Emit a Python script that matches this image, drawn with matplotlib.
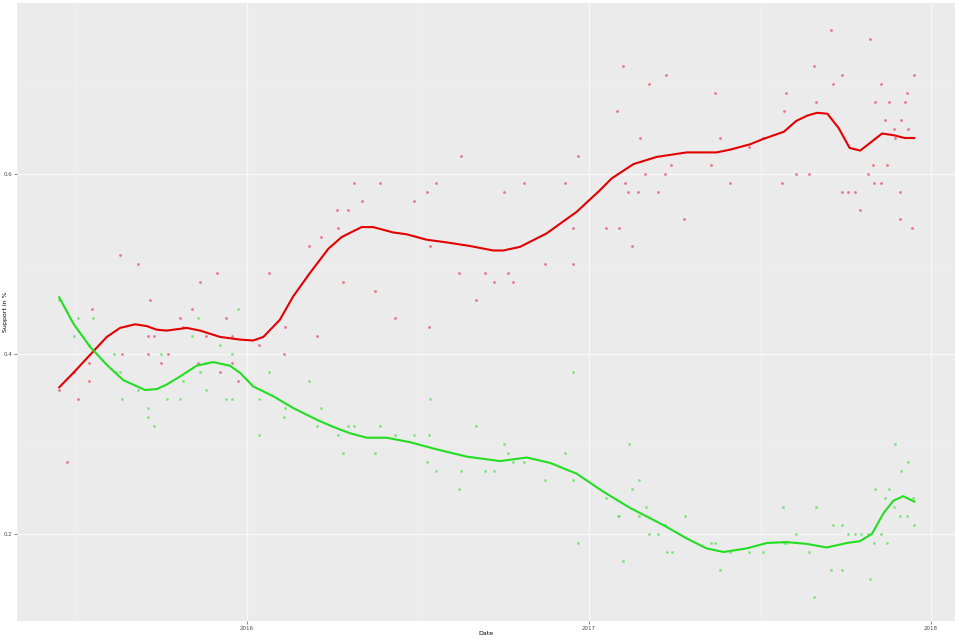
import matplotlib
matplotlib.use("Agg")
import matplotlib.pyplot as plt
import numpy as np

# Poll dates (decimal years) and support shares
red_dates = [2015.451, 2015.475, 2015.495, 2015.507, 2015.538, 2015.538, 2015.548, 2015.628,
             2015.634, 2015.682, 2015.710, 2015.710, 2015.717, 2015.729, 2015.749, 2015.768,
             2015.805, 2015.813, 2015.838, 2015.858, 2015.863, 2015.881, 2015.912, 2015.920,
             2015.939, 2015.955, 2015.957, 2015.973, 2016.035, 2016.064,
             2016.109, 2016.112, 2016.182, 2016.206, 2016.216, 2016.262, 2016.265, 2016.281,
             2016.294, 2016.314, 2016.335, 2016.374, 2016.390, 2016.434, 2016.489, 2016.527,
             2016.533, 2016.535, 2016.552, 2016.621, 2016.626, 2016.670, 2016.697, 2016.722,
             2016.751, 2016.762, 2016.779, 2016.809, 2016.872, 2016.930, 2016.954, 2016.954,
             2016.968, 2017.050, 2017.083, 2017.088, 2017.099, 2017.106, 2017.115, 2017.126,
             2017.144, 2017.148, 2017.164, 2017.176, 2017.203, 2017.222, 2017.226, 2017.241,
             2017.279,
             2017.356, 2017.369, 2017.384, 2017.411, 2017.469, 2017.509, 2017.565, 2017.569,
             2017.577, 2017.605, 2017.643, 2017.659, 2017.665, 2017.709, 2017.713, 2017.739,
             2017.739, 2017.758, 2017.777, 2017.793, 2017.816, 2017.823, 2017.831, 2017.833,
             2017.837, 2017.854, 2017.854, 2017.865, 2017.871, 2017.876, 2017.892, 2017.895,
             2017.909, 2017.910, 2017.913, 2017.925, 2017.931, 2017.934, 2017.944, 2017.951]
red_values = [0.36, 0.28, 0.38, 0.35, 0.39, 0.37, 0.45, 0.51,
              0.40, 0.50, 0.42, 0.40, 0.46, 0.42, 0.39, 0.40,
              0.44, 0.43, 0.45, 0.39, 0.48, 0.42, 0.49, 0.38,
              0.44, 0.42, 0.39, 0.37, 0.41, 0.49,
              0.40, 0.43, 0.52, 0.42, 0.53, 0.56, 0.54, 0.48,
              0.56, 0.59, 0.57, 0.47, 0.59, 0.44, 0.57, 0.58,
              0.43, 0.52, 0.59, 0.49, 0.62, 0.46, 0.49, 0.48,
              0.58, 0.49, 0.48, 0.59, 0.50, 0.59, 0.54, 0.50,
              0.62, 0.54, 0.67, 0.54, 0.72, 0.59, 0.58, 0.52,
              0.58, 0.64, 0.60, 0.70, 0.58, 0.60, 0.71, 0.61,
              0.55,
              0.61, 0.69, 0.64, 0.59, 0.63, 0.64, 0.59, 0.67,
              0.69, 0.60, 0.60, 0.72, 0.68, 0.76, 0.70, 0.71,
              0.58, 0.58, 0.58, 0.56, 0.60, 0.75, 0.61, 0.59,
              0.68, 0.70, 0.59, 0.66, 0.61, 0.68, 0.65, 0.64,
              0.58, 0.55, 0.66, 0.68, 0.69, 0.65, 0.54, 0.71]

green_dates = [2015.451, 2015.495, 2015.507, 2015.539, 2015.549, 2015.612, 2015.616, 2015.628,
               2015.634, 2015.682, 2015.710, 2015.710, 2015.729, 2015.749, 2015.766, 2015.805,
               2015.813, 2015.840, 2015.858, 2015.863, 2015.877, 2015.881, 2015.920, 2015.939,
               2015.955, 2015.957, 2015.973, 2016.035, 2016.035, 2016.064,
               2016.109, 2016.112, 2016.182, 2016.206, 2016.216, 2016.265, 2016.281, 2016.294,
               2016.314, 2016.374, 2016.390, 2016.434, 2016.489, 2016.527, 2016.533, 2016.535,
               2016.552, 2016.621, 2016.626, 2016.670, 2016.697, 2016.722,
               2016.751, 2016.762, 2016.779, 2016.809, 2016.872, 2016.930, 2016.954, 2016.954,
               2016.968, 2017.050, 2017.084, 2017.088, 2017.099, 2017.116, 2017.127, 2017.145,
               2017.147, 2017.166, 2017.175, 2017.203, 2017.223, 2017.227, 2017.242, 2017.281,
               2017.356, 2017.369, 2017.383, 2017.411, 2017.469, 2017.509, 2017.568, 2017.569,
               2017.577, 2017.605, 2017.643, 2017.659, 2017.665, 2017.709, 2017.713, 2017.739,
               2017.739, 2017.758, 2017.777, 2017.796, 2017.816, 2017.823, 2017.833, 2017.837,
               2017.854, 2017.865, 2017.871, 2017.876, 2017.892, 2017.894, 2017.909, 2017.913,
               2017.930, 2017.933, 2017.947, 2017.951]
green_values = [0.46, 0.42, 0.44, 0.41, 0.44, 0.40, 0.38, 0.38,
                0.35, 0.36, 0.34, 0.33, 0.32, 0.40, 0.35, 0.35,
                0.37, 0.42, 0.44, 0.38, 0.39, 0.36, 0.41, 0.35,
                0.40, 0.35, 0.45, 0.35, 0.31, 0.38,
                0.33, 0.34, 0.37, 0.32, 0.34, 0.31, 0.29, 0.32,
                0.32, 0.29, 0.32, 0.31, 0.31, 0.28, 0.31, 0.35,
                0.27, 0.25, 0.27, 0.32, 0.27, 0.27,
                0.30, 0.29, 0.28, 0.28, 0.26, 0.29, 0.26, 0.38,
                0.19, 0.24, 0.22, 0.22, 0.17, 0.30, 0.25, 0.22,
                0.26, 0.23, 0.20, 0.20, 0.21, 0.18, 0.18, 0.22,
                0.19, 0.19, 0.16, 0.18, 0.18, 0.18, 0.23, 0.19,
                0.19, 0.20, 0.18, 0.13, 0.23, 0.16, 0.21, 0.21,
                0.16, 0.20, 0.20, 0.20, 0.20, 0.15, 0.19, 0.25,
                0.20, 0.24, 0.19, 0.25, 0.23, 0.30, 0.22, 0.27,
                0.22, 0.28, 0.24, 0.21]

# Smoothed trend lines
red_trend_dates = [2015.451, 2015.492, 2015.541, 2015.590, 2015.629, 2015.673, 2015.707, 2015.736,
                   2015.765, 2015.824, 2015.863, 2015.921, 2015.980, 2016.018, 2016.048, 2016.096,
                   2016.135, 2016.184, 2016.238, 2016.277, 2016.335, 2016.369, 2016.428, 2016.467,
                   2016.525, 2016.584, 2016.652, 2016.720, 2016.749, 2016.798, 2016.876, 2016.964,
                   2017.032, 2017.066, 2017.130, 2017.198, 2017.286, 2017.373, 2017.412, 2017.471,
                   2017.510, 2017.570, 2017.606, 2017.639, 2017.667, 2017.697, 2017.730, 2017.762,
                   2017.793, 2017.857, 2017.892, 2017.923, 2017.951]
red_trend = [0.363, 0.379, 0.399, 0.419, 0.429, 0.433, 0.431, 0.427,
             0.426, 0.429, 0.426, 0.419, 0.416, 0.415, 0.419, 0.438,
             0.464, 0.490, 0.517, 0.530, 0.541, 0.541, 0.535, 0.533,
             0.527, 0.524, 0.520, 0.515, 0.515, 0.519, 0.534, 0.558,
             0.582, 0.595, 0.611, 0.619, 0.624, 0.624, 0.627, 0.633,
             0.639, 0.647, 0.659, 0.665, 0.668, 0.667, 0.651, 0.629,
             0.626, 0.645, 0.643, 0.640, 0.640]

green_trend_dates = [2015.451, 2015.492, 2015.541, 2015.590, 2015.638, 2015.702, 2015.736, 2015.765,
                     2015.804, 2015.853, 2015.901, 2015.950, 2015.980, 2016.018, 2016.077, 2016.135,
                     2016.204, 2016.252, 2016.301, 2016.350, 2016.408, 2016.477, 2016.545, 2016.642,
                     2016.740, 2016.818, 2016.886, 2016.964, 2017.042, 2017.120, 2017.217, 2017.286,
                     2017.344, 2017.393, 2017.461, 2017.520, 2017.578, 2017.637, 2017.695, 2017.754,
                     2017.792, 2017.827, 2017.861, 2017.890, 2017.919, 2017.951]
green_trend = [0.463, 0.434, 0.408, 0.388, 0.371, 0.360, 0.361, 0.366,
               0.375, 0.387, 0.391, 0.387, 0.379, 0.364, 0.353, 0.340,
               0.327, 0.319, 0.312, 0.307, 0.307, 0.302, 0.295, 0.286,
               0.281, 0.285, 0.279, 0.267, 0.247, 0.229, 0.210, 0.195,
               0.184, 0.180, 0.184, 0.190, 0.191, 0.189, 0.185, 0.190,
               0.192, 0.200, 0.223, 0.237, 0.242, 0.236]

x_ticks = [2016, 2017, 2018]
x_tick_labels = ["2016", "2017", "2018"]
y_ticks = [0.2, 0.4, 0.6]
y_tick_labels = ["0.2", "0.4", "0.6"]

W, H = 960, 640
px_left, px_right, px_top, px_bottom = 17, 955, 3, 621

fig = plt.figure(figsize=(9.6, 6.4), dpi=100)
fig.patch.set_facecolor("white")
ax = fig.add_axes([px_left / W, (H - px_bottom) / H,
                   (px_right - px_left) / W, (px_bottom - px_top) / H])
ax.set_facecolor("#ebebeb")

# 0.2 -> y=534 px, 900 px per unit; 2016 -> x=247 px, 342 px per year
ax.set_ylim(0.2 - (px_bottom - 534) / 900, 0.2 + (534 - px_top) / 900)
ax.set_xlim(2016 - (247 - px_left) / 342, 2016 + (px_right - 247) / 342)

ax.set_xticks(x_ticks)
ax.set_xticklabels(x_tick_labels)
ax.set_yticks(y_ticks)
ax.set_yticklabels(y_tick_labels)
ax.set_xticks([2015.5, 2016.5, 2017.5], minor=True)
ax.set_yticks([0.3, 0.5, 0.7], minor=True)
ax.grid(True, which="major", color="#f7f7f7", linewidth=1.0)
ax.grid(True, which="minor", color="#f2f2f2", linewidth=0.5)
ax.set_axisbelow(True)
ax.tick_params(which="minor", length=0)
ax.tick_params(which="major", length=2, width=0.5, color="#555555",
               labelsize=4, labelcolor="#4d4d4d", pad=1.5)
for s in ax.spines.values():
    s.set_visible(False)

ax.scatter(red_dates, red_values, s=4, color="#e8607e", alpha=0.85, linewidths=0, zorder=2)
ax.scatter(green_dates, green_values, s=4, color="#6fe06f", alpha=0.85, linewidths=0, zorder=2)
ax.plot(red_trend_dates, red_trend, color="#e50000", linewidth=1.5, zorder=3)
ax.plot(green_trend_dates, green_trend, color="#22dd22", linewidth=1.5, zorder=3)

ax.set_xlabel("Date", fontsize=4.5)
ax.set_ylabel("Support in %", fontsize=4.5)
ax.xaxis.set_label_coords(0.5, -(631 - px_bottom) / (px_bottom - px_top))
ax.yaxis.set_label_coords(-(px_left - 8) / (px_right - px_left), 0.5)

fig.savefig("out.png", dpi=100)
